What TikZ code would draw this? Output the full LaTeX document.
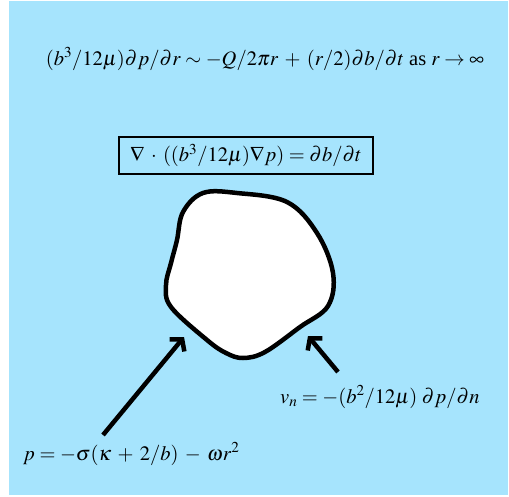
\documentclass[tikz,border=0pt]{standalone}
\usepackage{mathptmx}
\usepackage[no-math]{fontspec}
\setmainfont{Liberation Serif}
\usetikzlibrary{arrows.meta}
\definecolor{bgblue}{RGB}{166,228,253}
\AtBeginDocument{\medmuskip=5.5mu plus 2mu minus 4mu}
\begin{document}
\begin{tikzpicture}[x=1pt,y=-1pt,
  lbl/.style={inner sep=0pt,font=\fontsize{20.5}{25}\selectfont},
  pointer/.style={line width=4.5pt,-{Straight Barb[length=8pt,width=19pt]}},
  boxed/.style={draw,line width=1.8pt,inner xsep=11pt,inner ysep=7pt,font=\fontsize{20.5}{25}\selectfont}]
\useasboundingbox (0,0) rectangle (509,496);
\fill[white] (0,0) rectangle (509,496);
\fill[bgblue] (9,1) rectangle (508,495);
\node[lbl,anchor=base] (far) at (265,65) {$(b^3/12\mu)\partial p/\partial r\sim -Q/2\pi r+(r/2)\partial b/\partial t$ as $r\to\infty$};
\node[boxed] (eq) at (246,155.5) {$\nabla\cdot((b^3/12\mu)\nabla p)=\partial b/\partial t$};
\draw[line width=4.5pt,fill=white,line join=round] plot[smooth cycle,tension=0.6] coordinates {
 (203,193) (237,193) (287,202) (317,233) (333,273) (328,306) (300,327)
 (265,352) (243,358) (226,353) (207,340) (171,307) (166,285) (171,263) (177,240) (183,212)};
\node[lbl,anchor=base west] (pl) at (23,460) {$p=-\sigma(\kappa+2/b)-\omega r^2$};
\node[lbl,anchor=base west] (vl) at (280,403) {$v_n=-(b^2/12\mu)\;\partial p/\partial n$};
\coordinate (ptail) at (103,435);
\coordinate (ptip) at (184,337);
\coordinate (vtail) at (338,372);
\coordinate (vtip) at (308,336);
\draw[pointer] (ptail) -- (ptip);
\draw[pointer] (vtail) -- (vtip);
\end{tikzpicture}
\end{document}
